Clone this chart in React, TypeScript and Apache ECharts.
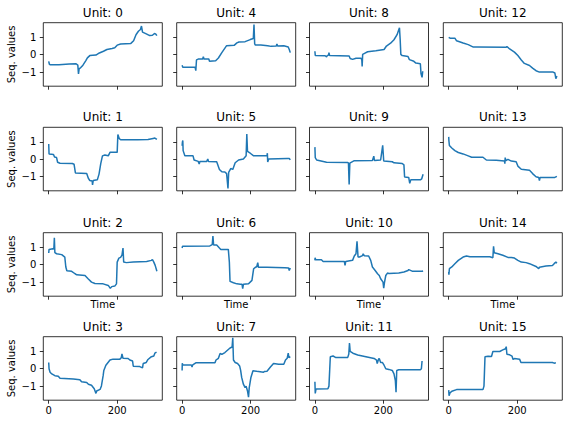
import React, { useEffect, useRef } from 'react';
import * as echarts from 'echarts';

// Each series: [time, value] pairs
const unit0 = [[0,-0.38],[2,-0.55],[5,-0.58],[30,-0.58],[60,-0.54],[80,-0.52],[85,-0.6],[87,-1.1],[89,-0.8],[93,-0.75],[100,-0.6],[108,-0.35],[113,-0.18],[120,-0.05],[138,-0.02],[148,0.1],[160,0.2],[170,0.3],[185,0.36],[193,0.4],[200,0.55],[210,0.62],[240,0.65],[248,0.8],[255,1.15],[262,1.35],[268,1.45],[271,1.65],[274,1.3],[285,1.2],[295,1.1],[303,1.12],[309,1.22],[313,1.18],[316,1.1]];
const unit1 = [[0,0.88],[1,0.3],[14,0.28],[17,0.13],[23,0.1],[26,-0.17],[33,-0.23],[69,-0.24],[74,-0.28],[78,-0.78],[111,-0.82],[116,-1.1],[120,-1.22],[127,-1.25],[128,-1.47],[130,-1.22],[142,-1.18],[147,-0.85],[152,-0.25],[157,0.2],[164,0.25],[174,0.2],[179,0.4],[200,0.4],[202,1.43],[206,1.2],[210,1.12],[260,1.12],[290,1.14],[305,1.2],[310,1.22],[316,1.14]];
const unit2 = [[0,0.67],[1,0.88],[12,0.92],[15,0.9],[16.5,1.55],[18,0.69],[23,0.63],[38,0.58],[47,0.44],[50,-0.13],[53,-0.35],[67,-0.38],[77,-0.52],[82,-0.58],[106,-0.62],[115,-0.81],[125,-1.0],[135,-1.08],[159,-1.1],[174,-1.19],[180,-1.36],[184,-1.26],[193,-1.23],[198,-1.1],[200,0.15],[205,0.38],[210,0.42],[214,0.55],[217,0.96],[219,0.15],[227,0.12],[247,0.15],[286,0.19],[300,0.25],[303,0.3],[307,0.15],[311,-0.04],[316,-0.38]];
const unit3 = [[0,0.36],[1,0],[4,-0.2],[9,-0.3],[18,-0.4],[28,-0.43],[33,-0.55],[72,-0.59],[91,-0.63],[96,-0.75],[111,-0.79],[116,-0.89],[125,-0.95],[133,-1.15],[138,-1.42],[140,-1.28],[150,-1.19],[154,-0.99],[159,-0.4],[161,-0.1],[167,0.2],[179,0.5],[188,0.55],[208,0.55],[212,0.63],[214,0.85],[217,0.6],[232,0.59],[237,0.5],[245,0.44],[247,0.14],[266,0.12],[274,0.05],[276,0.3],[285,0.36],[290,0.53],[300,0.69],[307,0.73],[310,0.89],[315,0.95]];
const unit4 = [[0,-0.6],[2,-0.72],[38,-0.72],[40,-0.92],[42,-0.3],[47,-0.25],[60,-0.25],[62,-0.12],[64,-0.25],[78,-0.25],[80,-0.38],[98,-0.35],[106,-0.19],[116,0.12],[130,0.52],[152,0.54],[160,0.68],[166,0.73],[184,0.75],[199,0.87],[208,0.93],[210,1.73],[212,0.62],[214,0.56],[230,0.56],[250,0.52],[260,0.48],[275,0.5],[277,0.62],[279,0.5],[297,0.52],[310,0.44],[313,0.3],[316,0.12]];
const unit5 = [[0,0.78],[1,1.0],[2,1.08],[3,0.5],[8,0.2],[32,0.2],[35,-0.04],[47,-0.12],[50,-0.27],[52,-0.12],[72,-0.12],[75,0.02],[77,-0.12],[101,-0.14],[109,-0.58],[116,-0.72],[125,-0.73],[130,-0.82],[134,-1.67],[136,-0.75],[142,-0.53],[148,-0.58],[155,-0.2],[165,-0.04],[179,0.02],[187,0.2],[189,1.45],[191,0.45],[199,0.35],[209,0.2],[248,0.2],[249,0.35],[250,-0.15],[253,0.02],[307,0.05],[313,0.05],[316,-0.03]];
const unit6 = [[0,0.96],[1,1.06],[3,1.05],[81,1.08],[88,1.15],[90,1.65],[92,1.13],[101,1.13],[109,0.96],[113,0.88],[135,0.88],[138,0.15],[140,-0.96],[150,-1.04],[160,-1.1],[170,-1.12],[175,-1.12],[177,-1.38],[179,-1.13],[194,-1.1],[204,-0.9],[209,-0.23],[214,-0.15],[218,-0.12],[221,0.12],[223,-0.15],[248,-0.15],[300,-0.17],[311,-0.19],[313,-0.33],[316,-0.19]];
const unit7 = [[0,-0.1],[0.5,0.32],[2,0.22],[27,0.22],[29,0.1],[31,0.22],[40,0.34],[96,0.34],[99,0.5],[106,0.6],[111,0.88],[116,0.82],[125,0.93],[140,1.19],[146,1.25],[148,1.78],[150,0.5],[155,0.36],[162,0.3],[168,0.16],[171,-0.1],[174,-0.5],[179,-0.89],[184,-1.09],[187,-1.0],[191,-1.28],[194,-1.64],[196,-1.1],[201,-0.5],[207,-0.12],[218,-0.15],[238,-0.2],[240,-0.16],[248,-0.15],[258,0.1],[267,0.3],[282,0.25],[297,0.26],[302,0.5],[307,0.6],[310,0.89],[312,0.63],[316,0.69]];
const unit8 = [[0,0.2],[1,-0.04],[30,-0.06],[34,-0.12],[36,-0.05],[40,-0.02],[41,0.12],[43,-0.05],[100,-0.07],[103,-0.22],[110,-0.27],[120,-0.2],[135,-0.21],[137,-0.3],[138,-0.67],[139.5,0.02],[145,0.08],[154,0.17],[178,0.23],[202,0.3],[209,0.5],[221,0.66],[231,0.86],[240,1.15],[247,1.55],[249,0.9],[251,0.02],[255,-0.05],[272,-0.1],[276,-0.28],[289,-0.38],[295,-0.48],[308,-0.52],[310,-1.1],[313,-1.3],[315,-0.95]];
const unit9 = [[0,0.7],[1,0.1],[5,-0.04],[34,-0.17],[96,-0.18],[98,-0.22],[100,-1.45],[102,-0.22],[115,-0.08],[168,-0.07],[172,0.18],[174,-0.07],[192,-0.04],[198,0.8],[201,-0.1],[226,-0.14],[231,-0.2],[255,-0.24],[260,-0.32],[262,-1.02],[274,-1.04],[277,-1.38],[280,-1.18],[308,-1.18],[312,-1.12],[316,-0.86]];
const unit10 = [[0,0.25],[0.5,0.4],[2,0.3],[19,0.29],[24,0.19],[86,0.19],[88,-0.04],[90,0.19],[110,0.25],[115,0.5],[120,0.63],[123,1.35],[126,0.44],[130,0.44],[139,0.52],[141,0.63],[144,0.52],[157,0.5],[163,0.25],[168,-0.13],[176,-0.33],[183,-0.52],[188,-0.62],[192,-0.81],[199,-1.0],[201,-1.35],[203,-1.05],[207,-0.62],[212,-0.48],[216,-0.5],[245,-0.48],[260,-0.42],[272,-0.33],[274,-0.28],[284,-0.37],[313,-0.38],[316,-0.36]];
const unit11 = [[0,-0.75],[1,-1.42],[3,-1.19],[5,-1.16],[38,-1.15],[41,-1.0],[45,0.69],[53,0.73],[60,0.65],[96,0.65],[99,0.85],[101,1.48],[103,0.99],[111,0.89],[125,0.79],[149,0.69],[173,0.59],[180,0.5],[182,0.3],[186,0.55],[188,0.59],[192,0.36],[197,0.36],[202,0.2],[207,0],[216,-0.04],[226,-0.1],[231,-0.3],[235,-0.69],[237,-1.35],[239,-0.1],[245,-0.06],[308,-0.06],[311,0.0],[313,0.44]];
const unit12 = [[0,1.0],[4,0.95],[18,0.95],[23,0.8],[42,0.67],[57,0.58],[72,0.44],[81,0.44],[168,0.43],[170,0.47],[178,0.33],[192,0.15],[202,-0.05],[212,-0.3],[221,-0.5],[236,-0.62],[245,-0.77],[255,-0.92],[265,-1.0],[305,-1.0],[310,-1.05],[313,-1.38],[316,-1.22]];
const unit13 = [[0,1.29],[0.5,1.08],[2,0.8],[9,0.65],[18,0.5],[28,0.39],[42,0.31],[57,0.2],[67,0.12],[100,0.12],[110,-0.04],[139,-0.05],[163,-0.1],[164,-0.25],[165,0.1],[167,-0.08],[173,0],[183,-0.1],[197,-0.14],[202,-0.39],[212,-0.57],[236,-0.63],[245,-0.82],[255,-1.0],[263,-1.05],[265,-1.22],[267,-1.04],[310,-1.04],[316,-0.98]];
const unit14 = [[0,-0.42],[0.5,-0.57],[2,-0.23],[9,-0.13],[18,0.06],[28,0.25],[42,0.44],[52,0.5],[62,0.46],[120,0.46],[129,0.4],[131,1.06],[133,0.69],[144,0.63],[158,0.54],[173,0.42],[183,0.42],[192,0.38],[202,0.25],[212,0.15],[226,0.12],[236,0.06],[255,-0.1],[263,-0.23],[265,-0.14],[284,-0.08],[303,-0.04],[308,0.06],[313,0.15],[316,0.08]];
const unit15 = [[0,-1.23],[1,-1.55],[4,-1.38],[9,-1.3],[23,-1.2],[100,-1.2],[103,-1.0],[106,0.69],[115,0.72],[125,0.7],[129,0.99],[149,0.99],[158,1.08],[166,1.15],[168,1.27],[170,0.83],[178,0.8],[185,0.72],[188,0.53],[192,0.58],[207,0.55],[211,0.36],[245,0.36],[303,0.36],[308,0.32],[313,0.34]];

const units = [unit0, unit1, unit2, unit3, unit4, unit5, unit6, unit7, unit8, unit9, unit10, unit11, unit12, unit13, unit14, unit15];
const unitNames = units.map((_, i) => 'Unit: ' + i);
const xTicks = [0, 200];
const yTicks = [-1, 0, 1];
const yLabel = 'Seq. values';
const xLabel = 'Time';

export default function App() {
  const ref = useRef<HTMLDivElement>(null);
  useEffect(() => {
    const chart = echarts.init(ref.current as HTMLDivElement, null, { renderer: 'svg' });
    const FONT = 'DejaVu Sans';
    const colLefts = [43.3, 176.7, 309.5, 443.3];
    const rowTops = [22.7, 127.3, 232.7, 336.7];
    const W = 119;
    const H = 63.5;
    const grid: any[] = [];
    const xAxis: any[] = [];
    const yAxis: any[] = [];
    const series: any[] = [];
    const graphic: any[] = [];
    const tickStyle = { color: '#000', width: 0.8 };
    for (let c = 0; c < 4; c++) {
      for (let r = 0; r < 4; r++) {
        const i = c * 4 + r;
        const left = colLefts[c];
        const top = rowTops[r];
        grid.push({ left, top, width: W, height: H, show: true, borderColor: '#000', borderWidth: 0.8, backgroundColor: 'transparent', containLabel: false, outerBoundsMode: 'none' });
        xAxis.push({
          gridIndex: i, type: 'value', min: -15.8, max: 331.8, position: 'bottom',
          axisLine: { show: false, onZero: false }, splitLine: { show: false },
          axisTick: { show: true, inside: false, length: 3.5, customValues: xTicks, lineStyle: tickStyle },
          axisLabel: { show: r === 3, customValues: xTicks, margin: 5, fontSize: 10, color: '#000', fontFamily: FONT },
          name: r === 2 ? xLabel : '', nameLocation: 'middle', nameGap: 3,
          nameTextStyle: { fontSize: 10, color: '#000', fontFamily: FONT, verticalAlign: 'top' },
        });
        yAxis.push({
          gridIndex: i, type: 'value', min: -1.81, max: 1.84, position: 'left',
          axisLine: { show: false, onZero: false }, splitLine: { show: false },
          axisTick: { show: true, inside: false, length: 3.5, customValues: yTicks, lineStyle: tickStyle },
          axisLabel: {
            show: c === 0, customValues: yTicks, margin: 7, fontSize: 10, color: '#000', fontFamily: FONT,
            formatter: (v: number) => (v < 0 ? '\u2212' + Math.abs(v) : String(v)),
          },
        });
        series.push({
          type: 'line', xAxisIndex: i, yAxisIndex: i, data: units[i], showSymbol: false,
          symbol: 'none', lineStyle: { color: '#1f77b4', width: 1.5 }, itemStyle: { color: '#1f77b4' },
          clip: true,
        });
        graphic.push({
          type: 'text', x: left + W / 2, y: top - 10,
          style: { text: unitNames[i], fill: '#000', font: '12px "DejaVu Sans"', align: 'center', verticalAlign: 'middle', textAlign: 'center', textVerticalAlign: 'middle' },
        });
        if (c === 0) {
          graphic.push({
            type: 'text', x: 11.2, y: top + H / 2, rotation: Math.PI / 2,
            style: { text: yLabel, fill: '#000', font: '10px "DejaVu Sans"', align: 'center', verticalAlign: 'middle', textAlign: 'center', textVerticalAlign: 'middle' },
          });
        }
      }
    }
    chart.setOption({
      animation: false,
      backgroundColor: '#fff',
      textStyle: { fontFamily: FONT },
      grid, xAxis, yAxis, series, graphic,
    });
    return () => chart.dispose();
  }, []);
  return <div ref={ref} style={{ position: 'absolute', left: 0, top: 0, width: 568, height: 424 }} />;
}
